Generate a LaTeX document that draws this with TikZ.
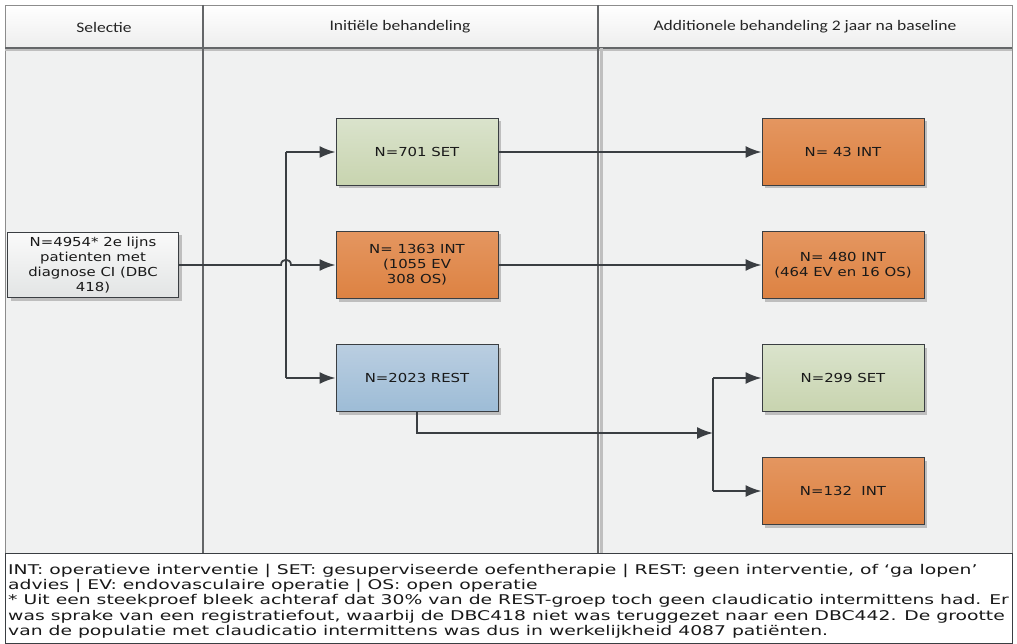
\documentclass[tikz,border=0pt]{standalone}
\usepackage{fontspec}
\setmainfont{DejaVu Sans}
\newfontfamily\boxfont[FakeStretch=1.2]{DejaVu Sans}
\newfontfamily\legfont[FakeStretch=1.40]{DejaVu Sans}
\newfontfamily\headfont[FakeStretch=1.2]{Carlito}
\usetikzlibrary{arrows.meta,shadows}
\definecolor{bodybg}{RGB}{240,241,241}
\definecolor{lineclr}{RGB}{58,62,66}
\definecolor{divclr}{RGB}{100,102,104}
\definecolor{greenT}{RGB}{218,227,204}
\definecolor{greenB}{RGB}{200,212,175}
\definecolor{orangeT}{RGB}{228,150,96}
\definecolor{orangeB}{RGB}{221,130,66}
\definecolor{blueT}{RGB}{186,206,225}
\definecolor{blueB}{RGB}{157,188,214}
\definecolor{grayT}{RGB}{250,250,250}
\definecolor{grayB}{RGB}{226,228,228}
\definecolor{txt}{RGB}{25,25,25}
\tikzset{
  box/.style={draw=lineclr, line width=1pt, minimum width=162, minimum height=67,
    align=center, inner sep=2pt, text=txt,
    font=\boxfont\fontsize{12.4}{15}\selectfont,
    drop shadow={shadow xshift=3pt, shadow yshift=-3pt, fill=black!30, opacity=0.8}},
  greenbox/.style={box, top color=greenT, bottom color=greenB},
  orangebox/.style={box, top color=orangeT, bottom color=orangeB},
  bluebox/.style={box, top color=blueT, bottom color=blueB},
  graybox/.style={box, top color=grayT, bottom color=grayB, minimum width=171, minimum height=65},
  conn/.style={draw=lineclr, line width=1.8pt},
  arr/.style={conn, -{Latex[length=16pt,width=12pt]}},
  divider/.style={draw=divclr, line width=1.4pt},
  headtext/.style={font=\headfont\fontsize{14.6}{16}\selectfont, text=black!85}
}
\begin{document}
\begin{tikzpicture}[x=1pt,y=-1pt]
\useasboundingbox (0,0) rectangle (1017,644);
\fill[white] (0,0) rectangle (1017,644);
% body
\fill[bodybg] (5,48) rectangle (1012,553);
% header
\shade[top color=white, bottom color=black!7] (5,5) rectangle (1012,48);
\draw[black!45, line width=0.8pt] (5,5) rectangle (1012,553);
\draw[black!25, line width=2pt] (5,50) -- (1012,50);
\draw[divider] (5,48) -- (1012,48);
% column dividers
\draw[black!25, line width=3pt] (601,48) -- (601,553);
\draw[divider] (203,5) -- (203,553);
\draw[divider] (598,5) -- (598,553);
\node[headtext] (h1) at (104,27) {Selectie};
\node[headtext] (h2) at (400,27) {Initiële behandeling};
\node[headtext] (h3) at (805,27) {Additionele behandeling 2 jaar na baseline};
% nodes
\node[graybox] (src) at (93,265) {N=4954* 2e lijns\\patienten met\\diagnose CI (DBC\\418)};
\node[greenbox] (set) at (417,152) {N=701 SET};
\node[orangebox] (int) at (417,265) {N= 1363 INT\\(1055 EV\\308 OS)};
\node[bluebox] (rest) at (417,378) {N=2023 REST};
\node[orangebox] (i43) at (843,152) {N= 43 INT};
\node[orangebox] (i480) at (843,265) {N= 480 INT\\ (464 EV en 16 OS)};
\node[greenbox] (s299) at (843,378) {N=299 SET};
\node[orangebox] (i132) at (843,491) {N=132\ \ INT};
% connectors
\coordinate (ja) at (286,152);
\coordinate (jb) at (286,378);
\coordinate (hopL) at (281,265);
\coordinate (hopR) at (291,265);
\draw[conn] (ja) -- (jb);
\draw[arr] (ja) -- (set.west);
\draw[arr] (jb) -- (rest.west);
\draw[arr] (src.east) -- (hopL) .. controls (281,258) and (291,258) .. (hopR) -- (int.west);
\draw[arr] (set.east) -- (i43.west);
\draw[arr] (int.east) -- (i480.west);
\coordinate (jc) at (713,378);
\coordinate (jd) at (713,491);
\coordinate (je) at (713,433);
\coordinate (rd) at (417,433);
\draw[conn] (jc) -- (jd);
\draw[arr] (jc) -- (s299.west);
\draw[arr] (jd) -- (i132.west);
\draw[arr] (rest.south) -- (rd) -- (je);
% legend
\draw[lineclr, line width=1pt, fill=white] (5,553) rectangle (1012,643);
\node[anchor=north west, inner sep=0pt, align=left, text=txt,
  font=\legfont\fontsize{13.4}{15.2}\selectfont] (leg) at (8,564)
  {INT: operatieve interventie | SET: gesuperviseerde oefentherapie | REST: geen interventie, of ‘ga lopen’\\
   advies | EV: endovasculaire operatie | OS: open operatie\\
   * Uit een steekproef bleek achteraf dat 30\% van de REST-groep toch geen claudicatio intermittens had. Er\\
   was sprake van een registratiefout, waarbij de DBC418 niet was teruggezet naar een DBC442. De grootte\\
   van de populatie met claudicatio intermittens was dus in werkelijkheid 4087 patiënten.};
\end{tikzpicture}
\end{document}
